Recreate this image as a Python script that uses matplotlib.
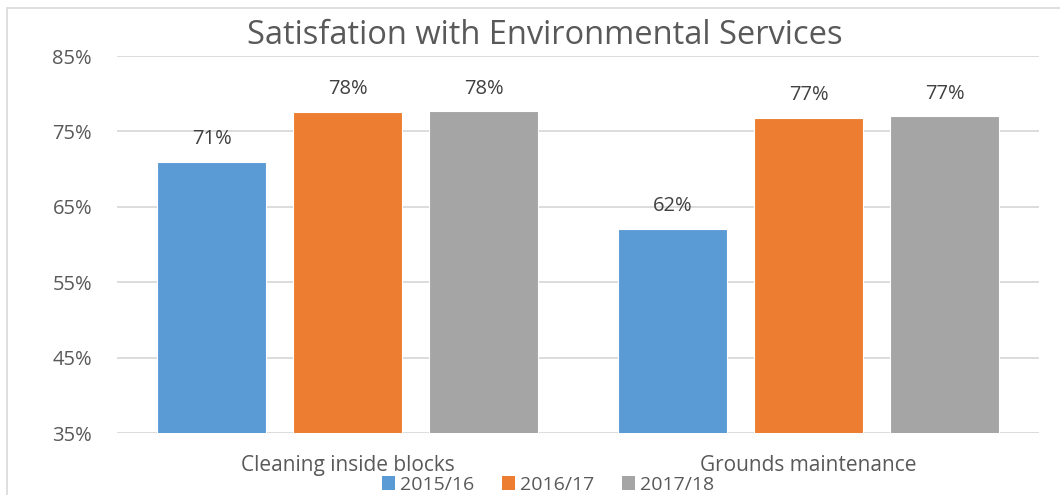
import matplotlib
matplotlib.use("Agg")
import matplotlib.pyplot as plt
from matplotlib.patches import Rectangle, Patch
import numpy as np

categories = ["Cleaning inside blocks", "Grounds maintenance"]
series_names = ["2015/16", "2016/17", "2017/18"]
values_2015 = [71.0, 62.1]
values_2016 = [77.6, 76.8]
values_2017 = [77.7, 77.0]
labels_2015 = ["71%", "62%"]
labels_2016 = ["78%", "77%"]
labels_2017 = ["78%", "77%"]
yticks = [35, 45, 55, 65, 75, 85]
colors = ["#5B9BD5", "#ED7D31", "#A5A5A5"]

plt.rcParams['font.family'] = ['Open Sans', 'DejaVu Sans']

fig = plt.figure(figsize=(10.6, 4.95), dpi=100)
ax = fig.add_axes([117/1060, 1-433/495, (1039-117)/1060, (433-56)/495])

x = np.arange(len(categories))
bw = 0.236
gap = 0.059
series = [values_2015, values_2016, values_2017]
labels = [labels_2015, labels_2016, labels_2017]
for i, (vals, labs) in enumerate(zip(series, labels)):
    off = (i - 1) * (bw + gap)
    ax.bar(x + off, vals, width=bw, color=colors[i], edgecolor="white",
           linewidth=0.8, zorder=3, label=series_names[i])
    for xb, v, t in zip(x + off, vals, labs):
        ax.annotate(t, (xb, v), xytext=(0, 9), textcoords="offset points",
                    ha="center", va="bottom", fontsize=14.5, color="#404040")

ax.set_ylim(35, 85)
ax.set_xlim(-0.5, 1.5)
ax.set_yticks(yticks)
ax.set_yticklabels([f"{t}%" for t in yticks], fontsize=14.5, color="#595959")
ax.set_xticks(x)
ax.set_xticklabels(categories, fontsize=15, color="#595959")
ax.tick_params(axis="both", length=0)
ax.tick_params(axis="y", pad=18)
ax.tick_params(axis="x", pad=16)
ax.grid(axis="y", color="#D9D9D9", linewidth=1.3, zorder=0)
for s in ax.spines.values():
    s.set_visible(False)

fig.text(545/1060, 1-36/495, "Satisfation with Environmental Services",
         ha="center", va="center", fontsize=23.5, color="#595959")

handles = [Patch(facecolor=c, edgecolor="none") for c in colors]
fig.legend(handles, series_names, loc="center", bbox_to_anchor=(548/1060, 1-485/495),
           ncol=3, frameon=False, fontsize=14, handlelength=0.7, handleheight=0.7,
           columnspacing=1.4, handletextpad=0.25, labelcolor="#595959",
           borderpad=0, borderaxespad=0)

fig.patches.append(Rectangle((7/1060, -0.1), 1.1, 1 - 8/495 + 0.1, transform=fig.transFigure,
                             fill=False, edgecolor="#D9D9D9", linewidth=1.2, zorder=0))

fig.savefig("out.png", dpi=100)
